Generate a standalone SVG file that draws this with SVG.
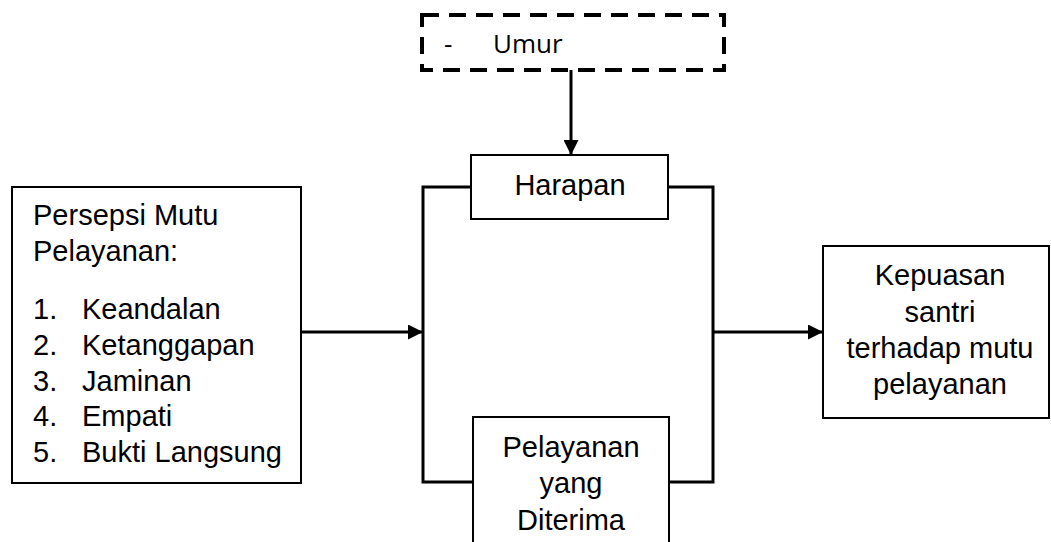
<svg xmlns="http://www.w3.org/2000/svg" width="1051" height="542" viewBox="0 0 1051 542">
<defs>
<style>
.box{fill:#fff;stroke:#000;stroke-width:2}
.dash{fill:none;stroke:#000;stroke-width:4;stroke-dasharray:17 10}
.t{font-family:"Liberation Sans",Arial,sans-serif;font-size:29px;fill:#000}
.c{text-anchor:middle}
.u{font-family:"Open Sans","Liberation Sans",sans-serif;font-size:26px;fill:#000}
.ln{fill:none;stroke:#000;stroke-width:3}
</style>
<marker id="ahb" markerWidth="15" markerHeight="15" refX="15" refY="7.5" orient="auto" markerUnits="userSpaceOnUse" viewBox="0 0 15 15">
<path d="M0,0 L15,7.5 L0,15 Z" fill="#000"/>
</marker>
</defs>
<g id="connectors">
<line class="ln" x1="571" y1="70" x2="571" y2="155" stroke-width="2" marker-end="url(#ahb)"/>
<polyline class="ln" points="471,187 423,187 423,482 473,482"/>
<polyline class="ln" points="668,187 713,187 713,482 669,482"/>
<line class="ln" x1="301" y1="332" x2="423" y2="332" marker-end="url(#ahb)"/>
<line class="ln" x1="713" y1="332" x2="823" y2="332" marker-end="url(#ahb)"/>
</g>
<g id="umur">
<rect class="dash" x="422" y="15" width="302" height="55"/>
<text class="u" x="444" y="53">-</text>
<text class="u" x="493" y="53">Umur</text>
</g>
<g id="harapan">
<rect class="box" x="471" y="155" width="197" height="64"/>
<text class="t c" x="570" y="195">Harapan</text>
</g>
<g id="pelayanan">
<rect class="box" x="473" y="417" width="196" height="140"/>
<text class="t c" x="571" y="457">Pelayanan</text>
<text class="t c" x="571" y="493">yang</text>
<text class="t c" x="571" y="530">Diterima</text>
</g>
<g id="persepsi">
<rect class="box" x="12" y="187" width="289" height="296"/>
<text class="t" x="33" y="225">Persepsi Mutu</text>
<text class="t" x="33" y="261">Pelayanan:</text>
<text class="t" x="33" y="319">1.</text><text class="t" x="82" y="319">Keandalan</text>
<text class="t" x="33" y="355">2.</text><text class="t" x="82" y="355">Ketanggapan</text>
<text class="t" x="33" y="391">3.</text><text class="t" x="82" y="391">Jaminan</text>
<text class="t" x="33" y="426">4.</text><text class="t" x="82" y="426">Empati</text>
<text class="t" x="33" y="462">5.</text><text class="t" x="82" y="462">Bukti Langsung</text>
</g>
<g id="kepuasan">
<rect class="box" x="823" y="246" width="226" height="172"/>
<text class="t c" x="940" y="285">Kepuasan</text>
<text class="t c" x="940" y="322">santri</text>
<text class="t c" x="940" y="358">terhadap mutu</text>
<text class="t c" x="940" y="394">pelayanan</text>
</g>
</svg>
